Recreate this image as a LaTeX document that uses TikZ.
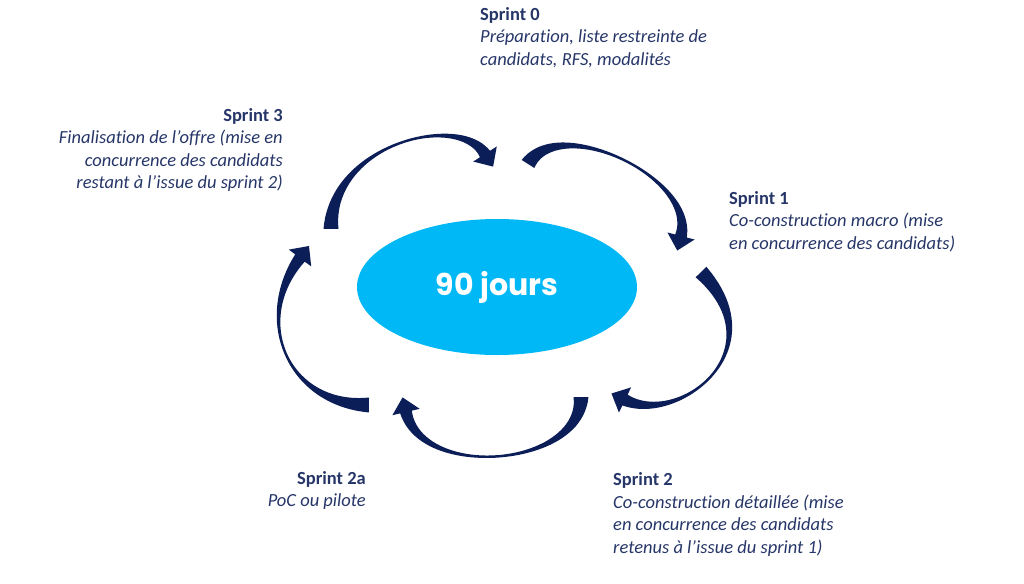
\documentclass[tikz,border=0pt]{standalone}
\usepackage{fontspec}
\setmainfont{Carlito}[Ligatures=NoCommon]
\newfontfamily\daysfont{Poppins}
\usepackage{tikz}
\usetikzlibrary{shapes.geometric}

\definecolor{sprintnavy}{RGB}{38,54,104}
\definecolor{arrownavy}{RGB}{12,30,88}
\definecolor{dayscyan}{RGB}{0,184,245}

%% tapered curved arrow: tail, two controls, neck (pixel coordinates)
\newcommand{\cyclearrow}[8]{%
  \def\ptAx{#1}\def\ptAy{#2}\def\ptBx{#3}\def\ptBy{#4}%
  \def\ptCx{#5}\def\ptCy{#6}\def\ptDx{#7}\def\ptDy{#8}%
  \fill[arrownavy]
    plot[domain=0:1, samples=50]
      ({bzx(\x)-0.5*bzw(\x)*bzdy(\x)/bzdl(\x)}, {bzy(\x)+0.5*bzw(\x)*bzdx(\x)/bzdl(\x)})
    -- ({bzx(1)-14*bzdy(1)/bzdl(1)}, {bzy(1)+14*bzdx(1)/bzdl(1)})
    -- ({bzx(1)+15*bzdx(1)/bzdl(1)}, {bzy(1)+15*bzdy(1)/bzdl(1)})
    -- ({bzx(1)+14*bzdy(1)/bzdl(1)}, {bzy(1)-14*bzdx(1)/bzdl(1)})
    -- plot[domain=1:0, samples=50]
      ({bzx(\x)+0.5*bzw(\x)*bzdy(\x)/bzdl(\x)}, {bzy(\x)-0.5*bzw(\x)*bzdx(\x)/bzdl(\x)})
    -- cycle;}

\begin{document}
\begin{tikzpicture}[x=1pt, y=-1pt,
  declare function={
    bzx(\x)=(1-\x)^3*\ptAx+3*(1-\x)^2*\x*\ptBx+3*(1-\x)*\x^2*\ptCx+\x^3*\ptDx;
    bzy(\x)=(1-\x)^3*\ptAy+3*(1-\x)^2*\x*\ptBy+3*(1-\x)*\x^2*\ptCy+\x^3*\ptDy;
    bzdx(\x)=0.03*(1-\x)^2*(\ptBx-\ptAx)+0.06*(1-\x)*\x*(\ptCx-\ptBx)+0.03*\x^2*(\ptDx-\ptCx);
    bzdy(\x)=0.03*(1-\x)^2*(\ptBy-\ptAy)+0.06*(1-\x)*\x*(\ptCy-\ptBy)+0.03*\x^2*(\ptDy-\ptCy);
    bzdl(\x)=sqrt(bzdx(\x)^2+bzdy(\x)^2);
    bzw(\x)=15-47*\x+44*\x^2;
  },
  sprinttext/.style={text=sprintnavy, inner sep=0pt,
    font=\fontsize{18.5}{22.4}\selectfont}]

\useasboundingbox (0,0) rectangle (1024,583);

%% Centre
\node[ellipse, fill=dayscyan, minimum width=280pt, minimum height=136pt,
  inner sep=0pt, text=white, font=\daysfont\bfseries\fontsize{30}{30}\selectfont]
  (days) at (497,287) {90 jours};

%% Cycle arrows
\cyclearrow{331}{229}{331}{144}{458}{112}{485}{154}  % sprint 3 -> sprint 0
\cyclearrow{528}{164}{560}{113}{696}{178}{681}{236}  % sprint 0 -> sprint 1
\cyclearrow{701}{272}{778}{350}{679}{426}{625}{400}  % sprint 1 -> sprint 2
\cyclearrow{581}{397}{581}{467}{422}{480}{406}{412}  % sprint 2 -> sprint 2a
\cyclearrow{369}{405}{289}{405}{252}{322}{300}{258}  % sprint 2a -> sprint 3

%% Sprint labels (anchored on the baseline of the last line)
\node[sprinttext, anchor=base west, align=left] (s0) at (480,65.3)
  {\textbf{Sprint 0}\\ \textit{Préparation, liste restreinte de}\\
   \textit{candidats, RFS, modalités}};
\node[sprinttext, anchor=base west, align=left] (s1) at (729,249)
  {\textbf{Sprint 1}\\ \textit{Co-construction macro (mise}\\
   \textit{en concurrence des candidats)}};
\node[sprinttext, anchor=base west, align=left] (s2) at (613,553)
  {\textbf{Sprint 2}\\ \textit{Co-construction détaillée (mise}\\
   \textit{en concurrence des candidats}\\
   \textit{retenus à l’issue du sprint 1)}};
\node[sprinttext, anchor=base east, align=right] (s2a) at (366,506.6)
  {\textbf{Sprint 2a}\\ \textit{PoC ou pilote}};
\node[sprinttext, anchor=base east, align=right] (s3) at (283,188.5)
  {\textbf{Sprint 3}\\ \textit{Finalisation de l’offre (mise en}\\
   \textit{concurrence des candidats}\\
   \textit{restant à l’issue du sprint 2)}};

\end{tikzpicture}
\end{document}
